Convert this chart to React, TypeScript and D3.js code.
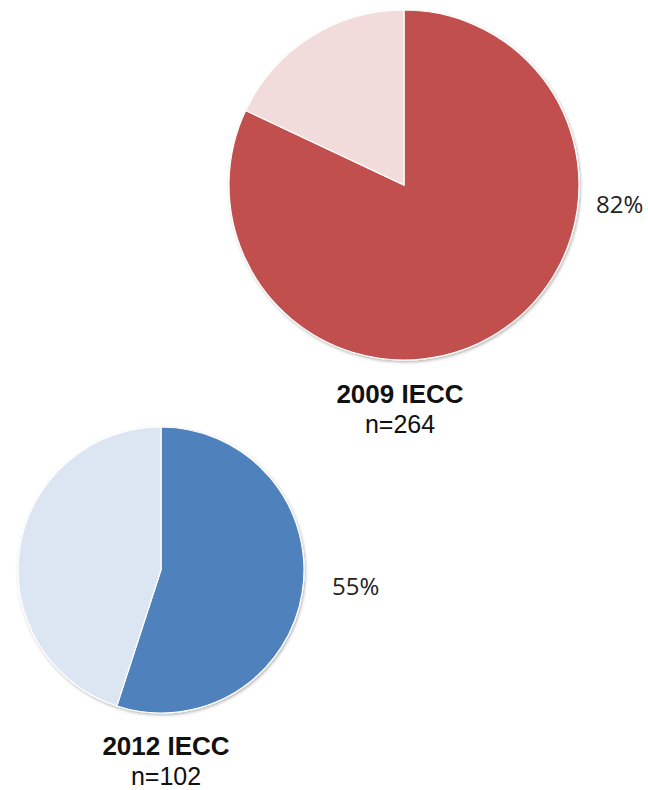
import React from "react"
import * as d3 from "d3"

// two pies, share of compliant homes per code year
const codeYears = ["2009 IECC", "2012 IECC"]
const sampleSizes = [264, 102]
const compliantShare = [82, 55]
const darkColors = ["#C0504D", "#4F81BD"]
const lightColors = ["#F2DCDB", "#DCE6F2"]

// layout for each pie (centre, radius, label spots)
const layout = [
  { cx: 404, cy: 185, r: 175, labelDx: 192, labelDy: 28, titleX: 400, titleY: 403 },
  { cx: 161, cy: 570, r: 143, labelDx: 171, labelDy: 25, titleX: 166, titleY: 755 },
]

export default function App() {
  const pie = d3.pie<number>().sort(null).value((d) => d)

  return (
    <svg
      width={648}
      height={790}
      style={{ position: "absolute", left: 0, top: 0, background: "#fff" }}
    >
      <defs>
        <filter id="shadow" x="-10%" y="-10%" width="120%" height="120%">
          <feDropShadow dx="1" dy="1.5" stdDeviation="1.5" floodColor="#000" floodOpacity="0.3" />
        </filter>
      </defs>
      {codeYears.map((year, i) => {
        const L = layout[i]
        const values = [compliantShare[i], 100 - compliantShare[i]]
        const arcs = pie(values)
        const arc = d3.arc<d3.PieArcDatum<number>>().innerRadius(0).outerRadius(L.r)
        const colors = [darkColors[i], lightColors[i]]
        return (
          <g key={year}>
            <g transform={`translate(${L.cx},${L.cy})`} filter="url(#shadow)">
              {arcs.map((a, j) => (
                <path key={j} d={arc(a) || ""} fill={colors[j]} stroke="#fff" strokeWidth={1.2} />
              ))}
            </g>
            <text
              x={L.cx + L.labelDx}
              y={L.cy + L.labelDy}
              fontFamily="'Open Sans', sans-serif"
              fontSize={24}
              fill="#222"
            >
              {compliantShare[i]}%
            </text>
            <text
              x={L.titleX}
              y={L.titleY}
              textAnchor="middle"
              fontFamily="'Liberation Sans', Arial, sans-serif"
              fontWeight="bold"
              fontSize={26}
              fill="#111"
            >
              {year}
            </text>
            <text
              x={L.titleX}
              y={L.titleY + 30}
              textAnchor="middle"
              fontFamily="'Liberation Sans', Arial, sans-serif"
              fontSize={25}
              fill="#111"
            >
              n={sampleSizes[i]}
            </text>
          </g>
        )
      })}
    </svg>
  )
}
